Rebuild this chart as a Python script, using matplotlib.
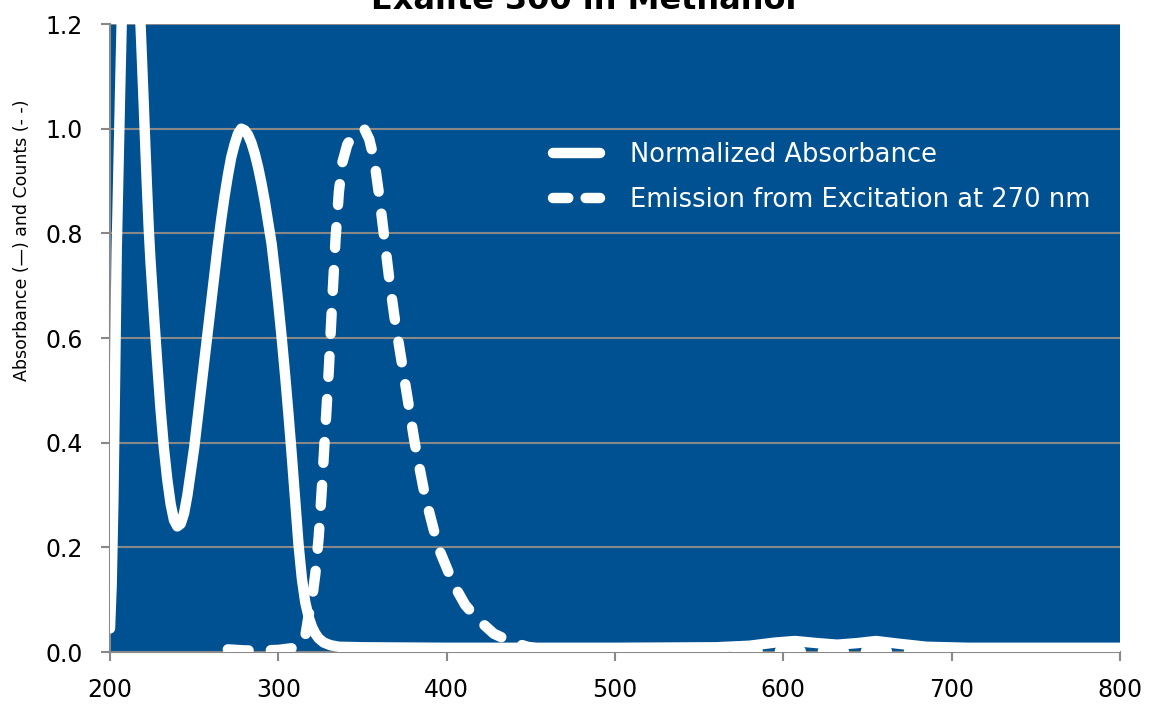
import matplotlib
matplotlib.use("Agg")
import matplotlib.pyplot as plt
from matplotlib.lines import Line2D

plt.rcParams['lines.scale_dashes'] = False

# ---- data ----
abs_wavelength = [200, 201, 202, 203, 204, 205, 206, 207, 209, 211, 213, 215, 217, 218,
                  219, 220, 221, 222, 223, 224, 225, 226, 228, 230, 232, 234, 236, 238,
                  240, 242, 244, 246, 248, 250, 252, 254, 256, 258, 260, 262, 264, 266,
                  268, 270, 272, 274, 276, 278, 280, 282, 284, 286, 288, 290, 292, 294,
                  296, 298, 300, 302, 304, 306, 308, 310, 312, 314, 316, 318, 320, 322,
                  324, 327, 331, 336, 350, 400, 500, 560, 580, 595, 607, 620, 632, 644,
                  655, 668, 685, 710, 800]
abs_values = [0.045, 0.13, 0.29, 0.52, 0.77, 0.92, 1.07, 1.21, 1.42, 1.52, 1.50, 1.41, 1.29, 1.21,
              1.13, 1.05, 0.965, 0.885, 0.81, 0.75, 0.70, 0.65, 0.555, 0.465, 0.39, 0.33, 0.283, 0.252,
              0.24, 0.245, 0.265, 0.30, 0.345, 0.39, 0.445, 0.50, 0.555, 0.61, 0.665, 0.72, 0.775, 0.825,
              0.87, 0.91, 0.945, 0.97, 0.99, 1.00, 0.997, 0.988, 0.973, 0.952, 0.926, 0.895, 0.86, 0.82,
              0.78, 0.725, 0.665, 0.60, 0.53, 0.455, 0.375, 0.29, 0.205, 0.14, 0.095, 0.067, 0.048, 0.035,
              0.026, 0.018, 0.013, 0.01, 0.009, 0.008, 0.008, 0.009, 0.012, 0.018, 0.021, 0.017, 0.014, 0.017,
              0.021, 0.016, 0.010, 0.008, 0.008]

em_wavelength = [270, 280, 290, 300, 310, 314, 316, 318, 320, 322, 324, 326, 328, 330,
                 332, 334, 336, 338, 341, 344, 348, 351, 354, 357, 360, 363, 366, 369,
                 372, 376, 381, 387, 395, 404, 411, 418, 428, 438, 448, 458, 480, 550,
                 650, 800]
em_values = [0.005, 0.003, 0.003, 0.004, 0.008, 0.015, 0.03, 0.07, 0.10, 0.15, 0.22, 0.32, 0.43, 0.54,
             0.67, 0.79, 0.88, 0.935, 0.97, 0.985, 0.995, 1.00, 0.98, 0.94, 0.87, 0.79, 0.71, 0.64,
             0.58, 0.50, 0.40, 0.30, 0.20, 0.13, 0.09, 0.064, 0.035, 0.02, 0.01, 0.005, 0.003, 0.002,
             0.002, 0.002]

x_ticks = [200, 300, 400, 500, 600, 700, 800]
y_ticks = [0.0, 0.2, 0.4, 0.6, 0.8, 1.0, 1.2]
y_tick_labels = ["0.0", "0.2", "0.4", "0.6", "0.8", "1.0", "1.2"]

title_text = "Exalite 300 in Methanol"
y_label = "Absorbance (\u2014) and Counts (- -)"
legend_labels = ["Normalized Absorbance", "Emission from Excitation at 270 nm"]

# ---- styling ----
BLUE = '#005192'
GRAY = '#888888'
LW = 7.5

fig = plt.figure(figsize=(11.5, 7.06), dpi=100)
ax = fig.add_axes([110/1150, 1-652/706, (1120-110)/1150, (652-24)/706])
ax.set_facecolor(BLUE)

ax.set_xlim(200, 800)
ax.set_ylim(0, 1.2)
ax.set_xticks(x_ticks)
ax.set_yticks(y_ticks)
ax.set_yticklabels(y_tick_labels)

ax.grid(axis='y', color=GRAY, linewidth=1.5, zorder=1)
ax.set_axisbelow(True)
for side in ['top', 'right']:
    ax.spines[side].set_visible(False)
for side in ['left', 'bottom']:
    ax.spines[side].set_color(GRAY)
    ax.spines[side].set_linewidth(1.5)
ax.tick_params(axis='both', direction='out', length=6.5, width=1.5, color=GRAY,
               labelsize=17, labelcolor='black')
ax.tick_params(axis='y', pad=13)
ax.tick_params(axis='x', pad=12.5)

ax.plot(abs_wavelength, abs_values, color='white', lw=LW, solid_capstyle='round',
        solid_joinstyle='round', zorder=3)
ax.plot(em_wavelength, em_values, color='white', lw=LW, dashes=(15, 16),
        dash_capstyle='round', dash_joinstyle='round', zorder=3)

handles = [Line2D([], [], color='white', lw=LW, solid_capstyle='round'),
           Line2D([], [], color='white', lw=LW, dashes=(11, 12.5), dash_capstyle='round')]
leg = ax.legend(handles, legend_labels, loc='upper left', bbox_to_anchor=(0.4386, 0.8125),
                frameon=False, fontsize=18.5, labelcolor='white', handlelength=1.83,
                handletextpad=1.17, labelspacing=0.74, borderpad=0, borderaxespad=0)

fig.text(22/1150, 1-240/706, y_label, rotation=90, ha='center', va='center',
         fontsize=12.5, family=['Liberation Sans Narrow', 'DejaVu Sans'])
fig.text(584/1150, 1-9/706, title_text, ha='center', va='baseline',
         fontsize=23, fontweight='bold')

fig.savefig('out.png', dpi=100)
